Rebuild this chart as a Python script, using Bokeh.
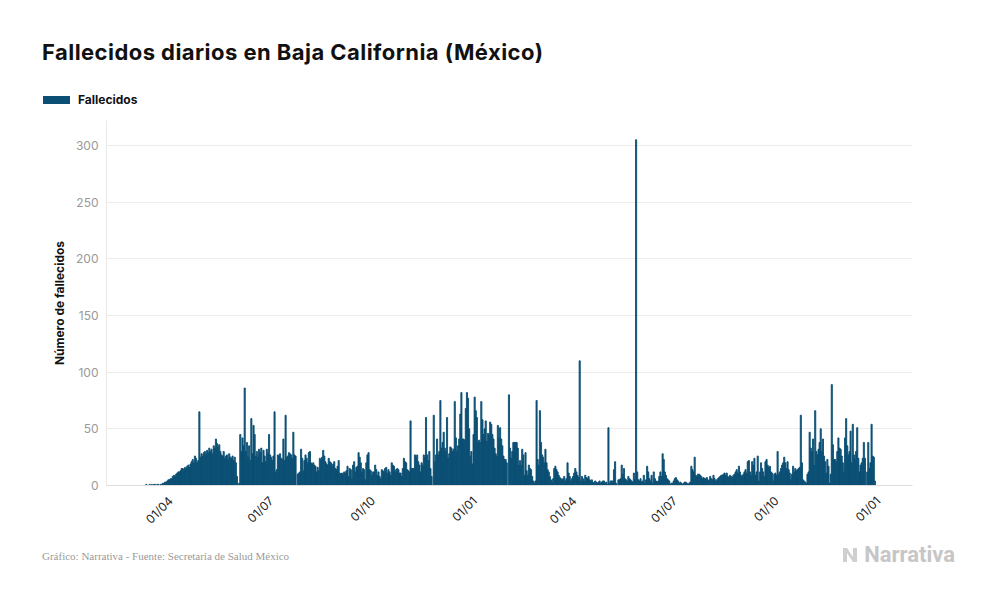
import math
import pandas as pd
from bokeh.plotting import figure
from bokeh.layouts import column
from bokeh.models import (Range1d, MonthsTicker, DatetimeTickFormatter, FixedTicker,
                          ColumnDataSource, Div)
from bokeh.embed import file_html
from bokeh.resources import INLINE

# ---------------- data ----------------
fecha_inicio = "2020-03-07"

# 2020-03-07 .. 2020-12-31 (daily)
fallecidos_2020 = [
    0, 0, 0, 1, 0, 0, 1, 0, 1, 0,
    1, 1, 0, 1, 1, 0, 1, 1, 2, 2,
    3, 3, 4, 5, 5, 6, 6, 8, 9, 8,
    10, 11, 12, 12, 13, 15, 15, 14, 16, 15,
    17, 18, 16, 19, 21, 23, 20, 26, 24, 20,
    22, 65, 25, 28, 26, 29, 30, 27, 31, 29,
    33, 30, 32, 28, 35, 33, 41, 37, 34, 36,
    30, 27, 26, 30, 24, 26, 27, 23, 28, 25,
    24, 26, 22, 25, 20, 8, 0, 2, 45, 30,
    42, 35, 86, 30, 38, 25, 35, 22, 59, 28,
    53, 45, 26, 30, 25, 32, 29, 33, 20, 31,
    26, 21, 32, 28, 45, 27, 25, 22, 26, 65,
    12, 14, 27, 26, 28, 24, 23, 41, 22, 62,
    25, 26, 29, 28, 27, 24, 47, 27, 26, 0,
    10, 11, 12, 32, 24, 13, 22, 27, 24, 20,
    29, 30, 20, 19, 20, 18, 17, 12, 16, 13,
    24, 22, 25, 31, 26, 21, 19, 18, 24, 21,
    20, 17, 19, 21, 15, 14, 17, 22, 11, 10,
    11, 10, 12, 11, 13, 17, 8, 15, 14, 6,
    18, 21, 12, 16, 17, 29, 25, 20, 12, 15,
    14, 5, 20, 27, 29, 14, 13, 9, 12, 12,
    18, 14, 9, 12, 8, 6, 14, 13, 12, 15,
    16, 11, 14, 12, 9, 20, 18, 17, 12, 14,
    15, 14, 11, 11, 8, 15, 24, 21, 20, 14,
    13, 12, 57, 15, 15, 15, 27, 25, 27, 21,
    18, 12, 20, 18, 27, 25, 60, 27, 22, 30,
    15, 8, 0, 62, 21, 27, 41, 27, 30, 75,
    33, 38, 47, 33, 30, 60, 24, 28, 34, 33,
    30, 32, 74, 42, 30, 35, 41, 63, 82, 41,
    41, 40, 68, 82, 77, 50, 26, 30, 19, 45,
]

# 2021-01-01 .. 2021-12-29 (daily)
fallecidos_2021 = [
    78, 66, 60, 38, 40, 38, 74, 58, 45, 50,
    57, 39, 46, 44, 56, 54, 45, 41, 33, 28,
    26, 53, 42, 51, 41, 35, 26, 23, 23, 20,
    0, 80, 33, 24, 30, 38, 38, 38, 38, 33,
    18, 22, 18, 32, 27, 9, 29, 13, 9, 18,
    15, 14, 8, 4, 2, 4, 75, 23, 18, 66,
    38, 27, 25, 20, 32, 20, 14, 12, 8, 5,
    3, 6, 15, 17, 14, 12, 9, 7, 6, 5,
    6, 8, 4, 6, 20, 11, 8, 4, 6, 8,
    11, 15, 12, 9, 7, 110, 4, 8, 6, 4,
    9, 7, 6, 8, 5, 4, 5, 3, 2, 4,
    3, 2, 3, 4, 2, 3, 4, 4, 2, 3,
    1, 51, 2, 4, 4, 4, 14, 21, 2, 0,
    5, 5, 6, 18, 10, 15, 6, 5, 4, 8,
    6, 5, 4, 3, 11, 5, 305, 12, 5, 4,
    6, 3, 4, 9, 2, 5, 17, 12, 6, 4,
    9, 2, 12, 6, 4, 3, 4, 8, 12, 8,
    28, 23, 12, 9, 6, 5, 4, 1, 2, 2,
    4, 6, 7, 5, 4, 2, 3, 2, 1, 2,
    3, 3, 2, 1, 2, 3, 17, 14, 12, 25,
    9, 8, 10, 10, 9, 8, 6, 7, 6, 6,
    7, 5, 4, 8, 6, 5, 9, 6, 4, 5,
    6, 7, 8, 9, 9, 10, 11, 9, 11, 8,
    7, 9, 8, 7, 9, 10, 12, 14, 11, 17,
    12, 9, 8, 10, 12, 14, 11, 21, 22, 12,
    9, 21, 18, 24, 9, 12, 26, 4, 12, 20,
    15, 12, 8, 21, 23, 18, 16, 17, 12, 11,
    4, 10, 11, 9, 30, 10, 12, 15, 18, 20,
    25, 20, 15, 21, 14, 11, 5, 10, 17, 12,
    15, 13, 14, 15, 16, 62, 20, 5, 4, 3,
    2, 10, 12, 47, 33, 30, 41, 18, 66, 30,
    27, 32, 38, 50, 30, 41, 26, 21, 11, 23,
    17, 2, 10, 89, 36, 23, 23, 21, 30, 42,
    33, 32, 26, 20, 12, 42, 59, 35, 27, 30,
    48, 20, 54, 27, 23, 30, 51, 24, 12, 18,
    20, 24, 38, 24, 0, 12, 38, 15, 20, 54,
    26, 25, 4,
]

y_ticks = [0, 50, 100, 150, 200, 250, 300]
titulo = "Fallecidos diarios en Baja California (México)"
serie = "Fallecidos"
eje_y = "Número de fallecidos"
fuente = "Gráfico: Narrativa - Fuente: Secretaría de Salud México"
marca = "Narrativa"

valores = fallecidos_2020 + fallecidos_2021
fechas = pd.date_range(fecha_inicio, periods=len(valores), freq="D")
source = ColumnDataSource(dict(fecha=fechas, valor=valores))

COLOR = "#0b4f74"
FONT = "Inter"
W = 980

# ---------------- header: title + legend ----------------
HEAD_H = 120
head_html = (
    f'<div style="position:relative;width:{W}px;height:{HEAD_H}px;font-family:Inter,sans-serif;">'
    f'<div style="position:absolute;left:42px;top:40px;font-size:22px;font-weight:700;'
    f'letter-spacing:0.45px;color:#111;line-height:24px;white-space:nowrap;">{titulo}</div>'
    f'<div style="position:absolute;left:43px;top:96px;width:27px;height:8px;'
    f'background:{COLOR};"></div>'
    f'<div style="position:absolute;left:78px;top:92px;font-size:12px;font-weight:700;'
    f'color:#111;line-height:16px;white-space:nowrap;">{serie}</div>'
    f'</div>'
)
head = Div(text=head_html, width=W, height=HEAD_H, margin=0)

# ---------------- main chart ----------------
MAIN_H = 415
p = figure(width=W, height=MAIN_H, output_backend="svg", toolbar_location=None,
           x_axis_type="datetime",
           x_range=Range1d(pd.Timestamp("2020-02-03"), pd.Timestamp("2022-02-01")),
           y_range=Range1d(0, 322),
           min_border_left=106, min_border_right=W - 912,
           min_border_top=0, min_border_bottom=MAIN_H - 365, margin=0)
p.outline_line_color = None
p.background_fill_color = "white"
p.border_fill_color = "white"

p.vbar(x="fecha", top="valor", width=86400000 * 1.0, source=source,
       fill_color=COLOR, line_color=COLOR, line_width=0.9)

p.xgrid.grid_line_color = None
p.ygrid.grid_line_color = "#ececec"
p.ygrid.ticker = FixedTicker(ticks=y_ticks)

p.yaxis.ticker = FixedTicker(ticks=y_ticks)
p.yaxis.axis_line_color = "#e8e8e8"
p.yaxis.major_tick_line_color = None
p.yaxis.major_tick_out = 0
p.yaxis.major_tick_in = 0
p.yaxis.minor_tick_line_color = None
p.yaxis.major_label_text_color = "#999999"
p.yaxis.major_label_text_font = FONT
p.yaxis.major_label_text_font_size = "12px"
p.yaxis.major_label_standoff = 8
p.yaxis.axis_label = eje_y
p.yaxis.axis_label_text_font = FONT
p.yaxis.axis_label_text_font_size = "12px"
p.yaxis.axis_label_text_font_style = "bold"
p.yaxis.axis_label_text_color = "#111111"
p.yaxis.axis_label_standoff = 6

p.xaxis.ticker = MonthsTicker(months=[0, 3, 6, 9])
p.xaxis.formatter = DatetimeTickFormatter(days="%d/%m", months="%d/%m", years="%d/%m")
p.xaxis.major_label_orientation = math.pi / 4
p.xaxis.axis_line_color = "#dddddd"
p.xaxis.major_tick_line_color = None
p.xaxis.major_tick_out = 0
p.xaxis.major_tick_in = 0
p.xaxis.minor_tick_line_color = None
p.xaxis.major_label_text_color = "#222222"
p.xaxis.major_label_text_font = FONT
p.xaxis.major_label_text_font_size = "12px"
p.xaxis.major_label_standoff = 13

# ---------------- footer: source + logo ----------------
FOOT_H = 65
logo_svg = (
    '<svg width="16" height="15" viewBox="0 0 16 15" style="position:absolute;left:843px;top:13px;">'
    '<polygon points="0,0 4,0 10,9 10,0 14,0 14,14 10,14 4,5 4,14 0,14" fill="#cfcfcf"/>'
    '</svg>'
)
foot_html = (
    f'<div style="position:relative;width:{W}px;height:{FOOT_H}px;">'
    f'<div style="position:absolute;left:42px;top:14px;font-family:\'Liberation Serif\',serif;'
    f'font-size:11px;color:#9a9a9a;line-height:14px;white-space:nowrap;">{fuente}</div>'
    f'{logo_svg}'
    f'<div style="position:absolute;right:{W - 955}px;top:7px;font-family:Roboto,sans-serif;'
    f'font-size:22px;font-weight:700;color:#c6c6c6;line-height:26px;white-space:nowrap;">{marca}</div>'
    f'</div>'
)
foot = Div(text=foot_html, width=W, height=FOOT_H, margin=0)

layout = column(head, p, foot, spacing=0)
open("out.html", "w").write(file_html(layout, INLINE))
